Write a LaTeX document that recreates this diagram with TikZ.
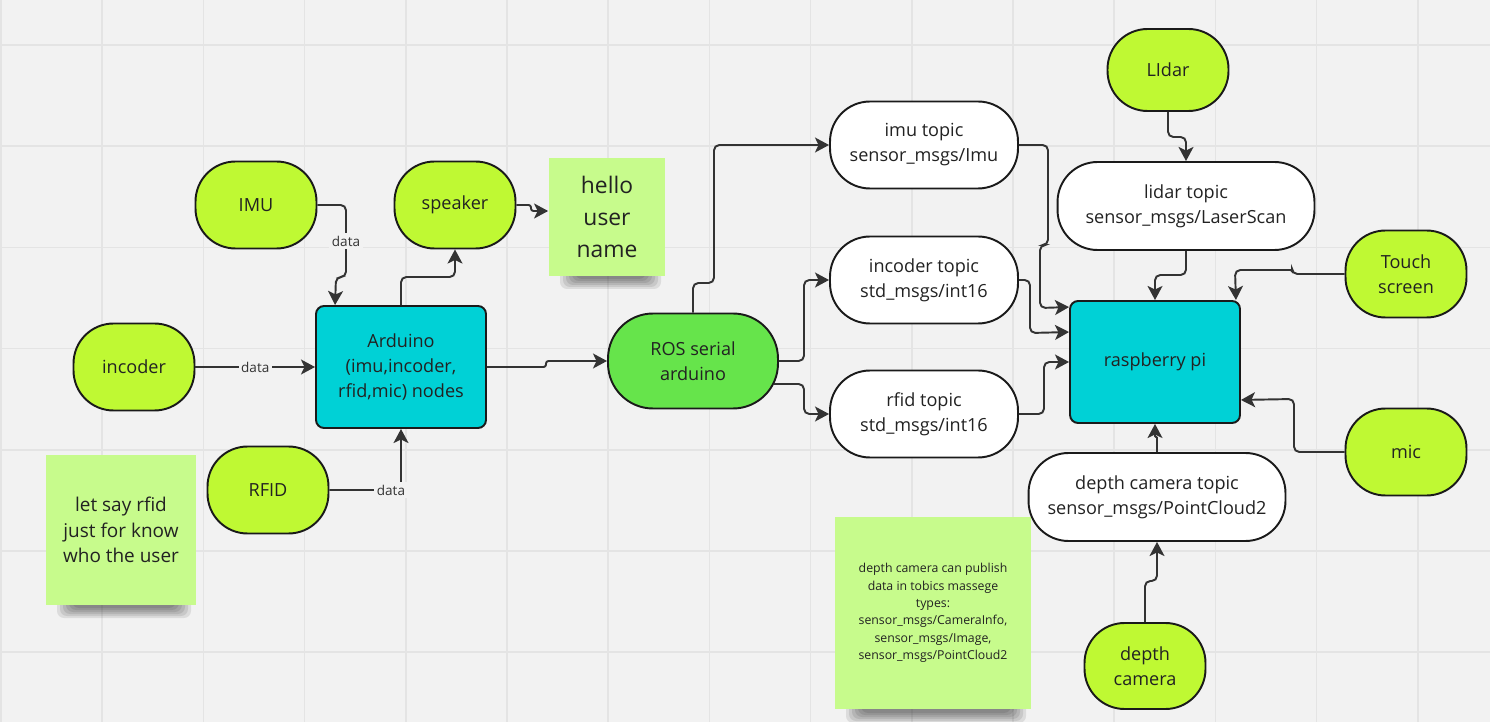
\documentclass[tikz,border=0pt]{standalone}
\usepackage{fontspec}
\setmainfont{Open Sans}
\usepackage{tikz}
\usetikzlibrary{arrows.meta}

\definecolor{bgc}{RGB}{242,242,242}
\definecolor{gridc}{RGB}{228,228,228}
\definecolor{limec}{RGB}{191,249,51}
\definecolor{rosc}{RGB}{102,228,75}
\definecolor{boardc}{RGB}{0,209,214}
\definecolor{stickyc}{RGB}{199,251,140}
\definecolor{linec}{RGB}{51,51,51}
\definecolor{edgec}{RGB}{26,26,26}
\definecolor{textc}{RGB}{34,34,34}

\tikzset{
	sensor/.style={draw=edgec, line width=1.1pt, fill=limec, rounded corners=0.8cm, minimum width=2.42cm, minimum height=1.74cm, align=center, text=textc, font=\fontsize{10.3}{14.2}\selectfont},
	topic/.style={sensor, fill=white, minimum width=3.76cm},
	bigtopic/.style={topic, minimum width=5.14cm, minimum height=1.76cm},
	board/.style={sensor, fill=boardc, rounded corners=0.16cm, minimum width=3.4cm, minimum height=2.44cm},
	note/.style={fill=stickyc, align=center, text=textc, inner sep=0pt},
	link/.style={draw=linec, line width=1.1pt, rounded corners=3pt, -{Stealth[length=8pt,width=8.5pt,inset=2pt]}},
	jog/.style={link, rounded corners=1.4pt},
	lbl/.style={fill=bgc, text=linec, inner sep=1.5pt, rounded corners=0pt, font=\fontsize{7.7}{9}\selectfont}
}

\begin{document}
\begin{tikzpicture}[x=0.02cm, y=-0.02cm]

	\useasboundingbox (0,0) rectangle (1490,722);
	\fill[bgc] (0,0) rectangle (1490,722);
	\foreach \i in {0,...,14} \draw[gridc, line width=1pt] ({1+101.2*\i},0) -- ({1+101.2*\i},722);
	\foreach \j in {0,...,6} \draw[gridc, line width=1pt] (0,{45+101.2*\j}) -- (1490,{45+101.2*\j});

	% sticky note shadows
	\foreach \xa/\xb/\yb in {46/196/605, 549/666/276, 835/1031/710}
		\foreach \k in {1,...,6}
			\fill[black, opacity=0.09, rounded corners=4pt] ({\xa+8+3*\k}, {\yb-20}) rectangle ({\xb-2-3*\k}, {\yb+15-2*\k});

	\node[sensor] (imu) at (256, 205) {IMU};
	\node[sensor] (spk) at (455, 205) {speaker};
	\node[sensor] (inc) at (134, 367) {incoder};
	\node[sensor] (rfid) at (268, 490) {RFID};
	\node[board] (ard) at (401, 367) {Arduino\\(imu,incoder,\\rfid,mic) nodes};
	\node[note, minimum width=2.34cm, minimum height=2.36cm, font=\fontsize{13}{18.2}\selectfont] (hello) at (607, 217) {hello\\user\\name};
	\node[note, minimum width=3cm, minimum height=3cm, font=\fontsize{10.8}{14.7}\selectfont] (rfidnote) at (121, 530) {let say rfid\\just for know\\who the user};
	\node[sensor, fill=rosc, minimum width=3.4cm, minimum height=1.9cm, rounded corners=0.9cm] (ros) at (693, 361) {ROS serial\\arduino};
	\node[topic] (imut) at (924, 145) {imu topic\\sensor\_msgs/Imu};
	\node[topic] (inct) at (924, 280) {incoder topic\\std\_msgs/int16};
	\node[topic] (rfidt) at (924, 414) {rfid topic\\std\_msgs/int16};
	\node[sensor, minimum height=1.64cm] (lidar) at (1168, 70) {LIdar};
	\node[bigtopic] (lidt) at (1186, 206) {lidar topic\\sensor\_msgs/LaserScan};
	\node[sensor] (touch) at (1406, 274) {Touch\\screen};
	\node[board] (rpi) at (1155, 362) {raspberry pi};
	\node[sensor] (mic) at (1406, 452) {mic};
	\node[bigtopic] (dtopic) at (1157, 497) {depth camera topic\\sensor\_msgs/PointCloud2};
	\node[note, minimum width=3.92cm, minimum height=3.86cm, font=\fontsize{7}{9.9}\selectfont] (dnote) at (933, 613) {depth camera can publish\\data in tobics massege\\types:\\sensor\_msgs/CameraInfo,\\sensor\_msgs/Image,\\sensor\_msgs/PointCloud2};
	\node[sensor, minimum height=1.72cm] (dcam) at (1145, 666) {depth\\camera};

	\draw[link] (imu.east) -- (346, 205) -- node[lbl]{data} (346, 277) -- (336, 277) -- ([xshift=0.4cm]ard.north west);
	\draw[link] (ard.north) -- (401, 277) -- (455, 277) -- (spk.south);
	\draw[jog] (spk.east) -- (531, 205) -- (531, 211) -- ([yshift=0.12cm]hello.west);
	\path (inc.east) edge[link] node[lbl]{data} (ard.west);
	\draw[link] (rfid.east) -- node[lbl, pos=0.86]{data} (401, 490) -- (ard.south);
	\draw[jog] (ard.east) -- (546, 367) -- (546, 361) -- (ros.west);
	\draw[link] (ros.north) -- (693, 283) -- (714, 283) -- (714, 145) -- (imut.west);
	\draw[link] (ros.east) -- (804, 361) -- (804, 280) -- (inct.west);
	\draw[link] ([xshift=-0.1cm, yshift=-0.46cm]ros.east) -- (804, 384) -- (804, 414) -- (rfidt.west);
	\draw[link] (imut.east) -- (1048, 145) -- (1048, 245) -- (1040, 245) -- (1040, 308) -- ([yshift=-0.14cm]rpi.north west);
	\draw[link] (inct.east) -- (1030, 280) -- (1030, 333) -- ([yshift=-0.64cm]rpi.north west);
	\draw[link] (rfidt.east) -- (1044, 414) -- (1044, 362) -- (rpi.west);
	\draw[link] (lidar.south) -- (1168, 137) -- (1186, 137) -- (lidt.north);
	\draw[link] (lidt.south) -- (1186, 275) -- (1155, 275) -- (rpi.north);
	\draw[link] (touch.west) -- (1292, 274) [rounded corners=0.8pt] -- (1292, 270) [rounded corners=3pt] -- (1235, 270) -- ([xshift=-0.1cm]rpi.north east);
	\draw[link] (mic.west) -- (1294, 452) -- (1294, 399) -- ([yshift=0.48cm]rpi.south east);
	\draw[jog, rounded corners=0.5pt] (dtopic.north) -- (1157, 437) -- (1155, 437) -- (rpi.south);
	\draw[link] (dcam.north) -- (1145, 581) -- (1157, 581) -- (dtopic.south);

\end{tikzpicture}
\end{document}
